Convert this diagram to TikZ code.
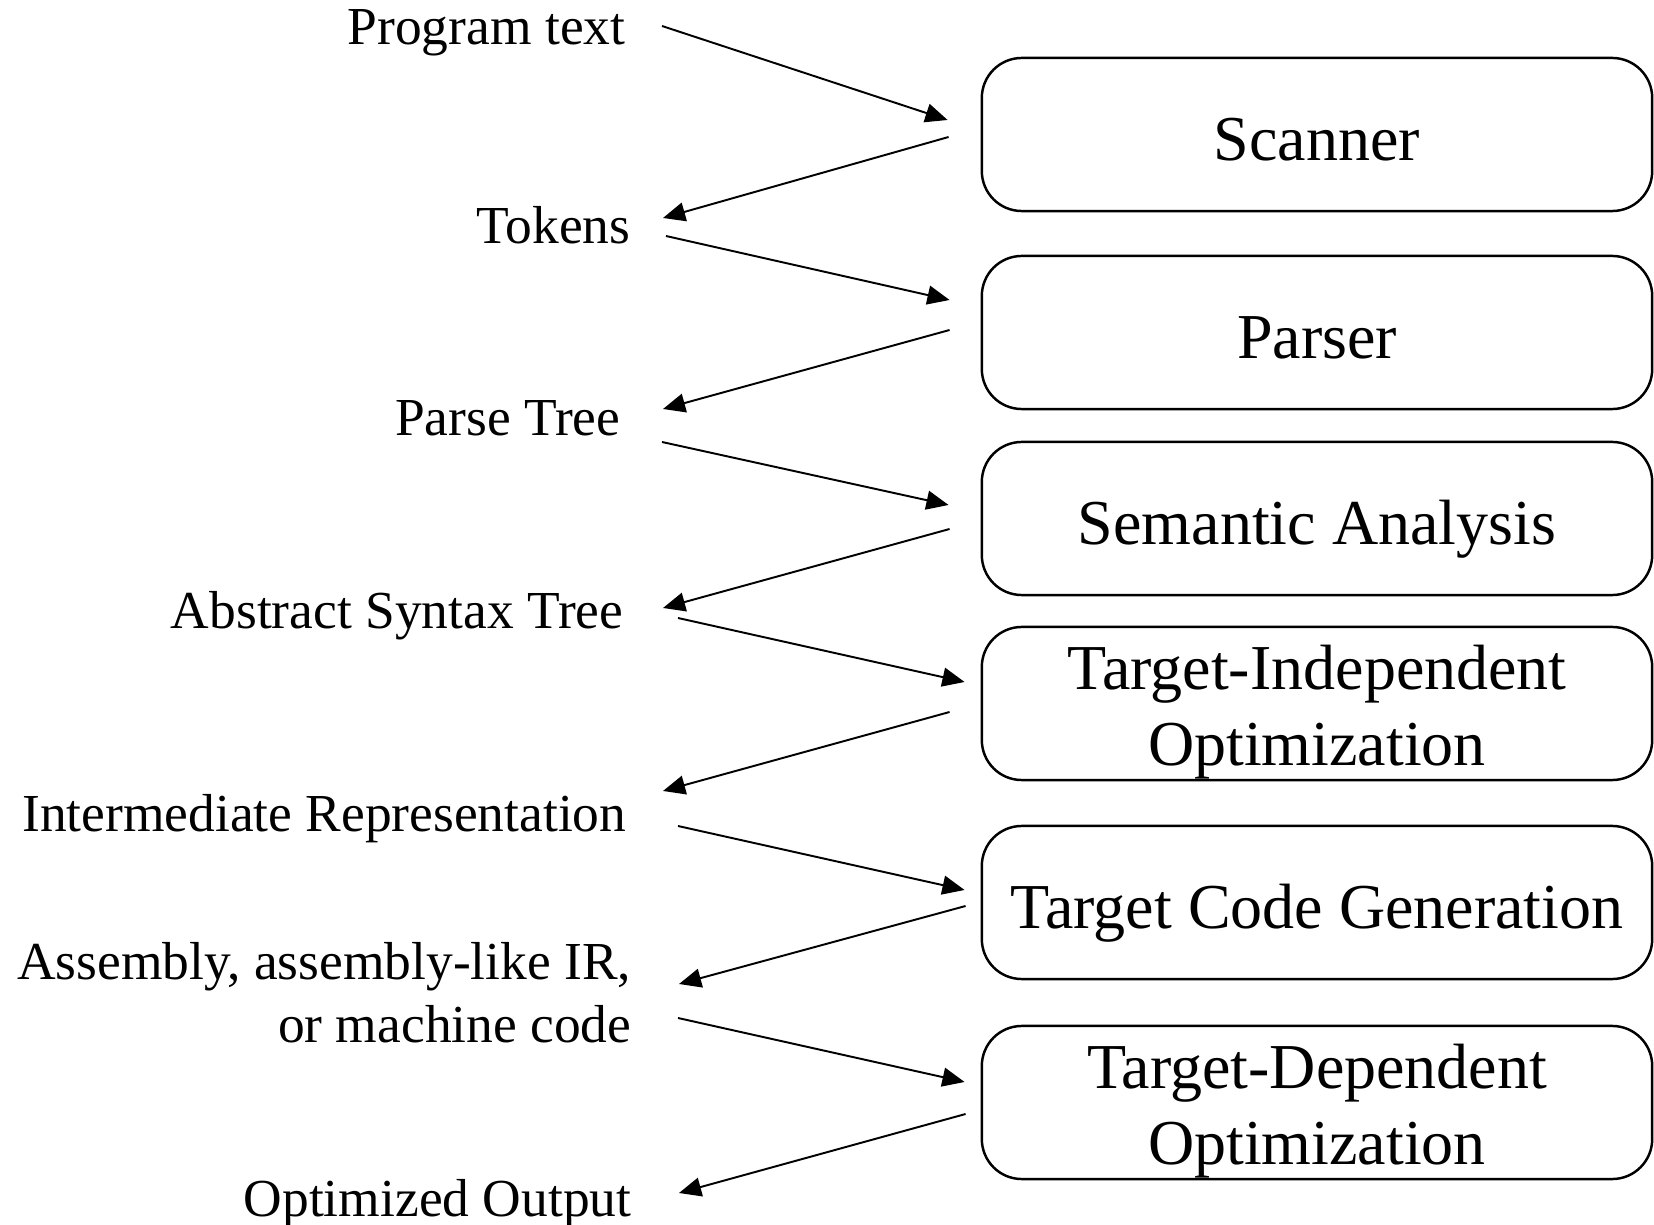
\documentclass[tikz,border=0pt]{standalone}
\usepackage{fontspec}
\setmainfont{Liberation Serif}
\usetikzlibrary{arrows.meta,calc}
\begin{document}
\begin{tikzpicture}[x=0.01cm,y=-0.01cm,
  stage/.style={draw=black, line width=0.7pt, rounded corners=0.4cm,
    minimum width=6.7cm, minimum height=1.53cm, inner sep=0pt,
    font=\fontsize{18.2}{21.6}\selectfont, align=center},
  oneline/.style={text height=14.6pt, text depth=0pt},
  twoline/.style={text height=35pt, text depth=0pt},
  artefact/.style={anchor=base east, inner sep=0pt, align=right,
    font=\fontsize{15.2}{18}\selectfont},
  flow/.style={line width=0.55pt, -{Triangle[length=6.3pt,width=5.4pt]}}
]
\useasboundingbox (0,0) rectangle (1654,1225);

% compiler phases
\node[stage,oneline] (scan) at (1317,134.5) {Scanner};
\node[stage,oneline] (pars) at (1317,332.5) {Parser};
\node[stage,oneline] (sem)  at (1317,518.5) {Semantic Analysis};
\node[stage,twoline] (ti)   at (1317,703.5) {Target-Independent\\Optimization};
\node[stage,oneline] (tcg)  at (1317,902.5) {Target Code Generation};
\node[stage,twoline] (td)   at (1317,1102.5) {Target-Dependent\\Optimization};

% intermediate artefacts (base anchor = last line)
\node[artefact] (prog)  at (626,45)   {Program text};
\node[artefact] (tok)   at (631,244)  {Tokens};
\node[artefact] (ptree) at (621,436)  {Parse Tree};
\node[artefact] (ast)   at (624,629)  {Abstract Syntax Tree};
\node[artefact] (ir)    at (627,832)  {Intermediate Representation};
\node[artefact] (asm)   at (632,1043) {Assembly, assembly-like IR,\\or machine code};
\node[artefact] (out)   at (632,1216) {Optimized Output};

% data flow
\draw[flow] ($(prog.base east)+(36,-19)$) -- ($(scan.west)+(-33,-14.5)$);
\draw[flow] ($(scan.west)+(-32,2.5)$) -- ($(tok.base east)+(32,-26)$);
\draw[flow] ($(tok.base east)+(35,-8)$) -- ($(pars.west)+(-31,-32.5)$);
\draw[flow] ($(pars.west)+(-31,-2.5)$) -- ($(ptree.base east)+(42,-27)$);
\draw[flow] ($(ptree.base east)+(41,6)$) -- ($(sem.west)+(-32,-13.5)$);
\draw[flow] ($(sem.west)+(-31,10.5)$) -- ($(ast.base east)+(39,-21)$);
\draw[flow] ($(ast.base east)+(54,-11)$) -- ($(ti.west)+(-16,-21.5)$);
\draw[flow] ($(ti.west)+(-31,8.5)$) -- ($(ir.base east)+(36,-41)$);
\draw[flow] ($(ir.base east)+(51,-6)$) -- ($(tcg.west)+(-16,-12.5)$);
\draw[flow] ($(tcg.west)+(-15,3.5)$) -- ($(asm.base east)+(47,-59)$);
\draw[flow] ($(asm.base east)+(46,-25)$) -- ($(td.west)+(-16,-20.5)$);
\draw[flow] ($(td.west)+(-15,11.5)$) -- ($(out.base east)+(47,-23)$);
\end{tikzpicture}
\end{document}
